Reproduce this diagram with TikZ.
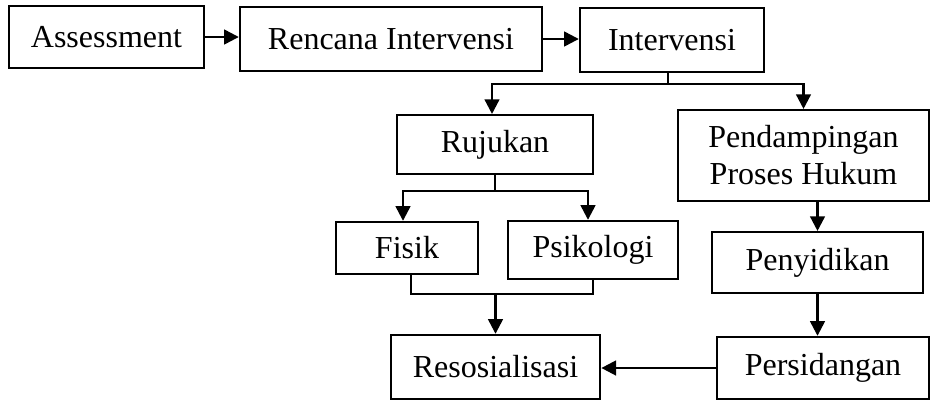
\documentclass[tikz,border=0pt]{standalone}
\usepackage{fontspec}
\setmainfont{Liberation Serif}
\usepackage{tikz}
\usetikzlibrary{arrows.meta}
\usetikzlibrary{calc}

\tikzset{
  box/.style={draw, line width=1.8pt, rectangle, inner sep=0pt, align=center,
    font=\fontsize{24}{27.8}\selectfont},
  link/.style={line width=1.8pt},
}

\begin{document}
\begin{tikzpicture}[x=0.75pt, y=-0.75pt, >={Triangle[length=11pt,width=11pt]}]

  \useasboundingbox (0,0) rectangle (931,401);

%%%%%%%%%%%% top row
  \node[box, minimum width=146pt, minimum height=46.5pt] (assess)  at (106.5, 37) {Assessment};
  \node[box, minimum width=226.5pt, minimum height=48pt] (rencana) at (391, 39) {Rencana Intervensi};
  \node[box, minimum width=138pt, minimum height=48pt]  (interv)  at (672, 40) {Intervensi};

  \draw[link,->] (assess.east) -- (assess.east -| rencana.west);
  \draw[link,->] (rencana.east) -- (rencana.east -| interv.west);

%%%%%%%%%%%% second row
  \node[box, minimum width=147pt, minimum height=44pt]  (rujukan) at (495, 144.5) {Rujukan};
  \node[box, minimum width=188pt, minimum height=68pt]  (pendamp) at (803.5, 155.5) {Pendampingan\\Proses Hukum};

  \draw[link] ($(interv.south)+(-4,0)$) -- ++(0,11) coordinate (ibr);
  \draw[link,->] (ibr) -| ($(rujukan.north)+(-3,0)$);
  \draw[link,->] (ibr) -| (pendamp.north);

%%%%%%%%%%%% third row
  \node[box, minimum width=106.5pt, minimum height=39pt] (fisik)  at (407, 248) {Fisik};
  \node[box, minimum width=127.5pt, minimum height=43.5pt] (psiko) at (593, 250) {Psikologi};
  \node[box, minimum width=158pt, minimum height=45.5pt] (penyid) at (817.5, 262.5) {Penyidikan};

  \draw[link] (rujukan.south) -- ++(0,16) coordinate (rbr);
  \draw[link,->] (rbr) -| ($(fisik.north)+(-4,0)$);
  \draw[link,->] (rbr) -| ($(psiko.north)+(-5,0)$);
  \draw[link,->] (pendamp.south -| penyid.north) -- (penyid.north);

%%%%%%%%%%%% bottom row
  \node[box, minimum width=157pt, minimum height=48pt] (resos)  at (495.5, 367) {Resosialisasi};
  \node[box, minimum width=159pt, minimum height=46.5pt] (persid) at (823, 368) {Persidangan};

  \draw[link] ($(fisik.south)+(4,0)$) -- ++(0,19) coordinate (fb)
    -- (fb -| psiko.south) -- (psiko.south);
  \draw[link,->] (fb -| resos.north) -- (resos.north);
  \draw[link,->] (penyid.south) -- (penyid.south |- persid.north);
  \draw[link,->] (persid.west) -- (persid.west -| resos.east);

\end{tikzpicture}
\end{document}
